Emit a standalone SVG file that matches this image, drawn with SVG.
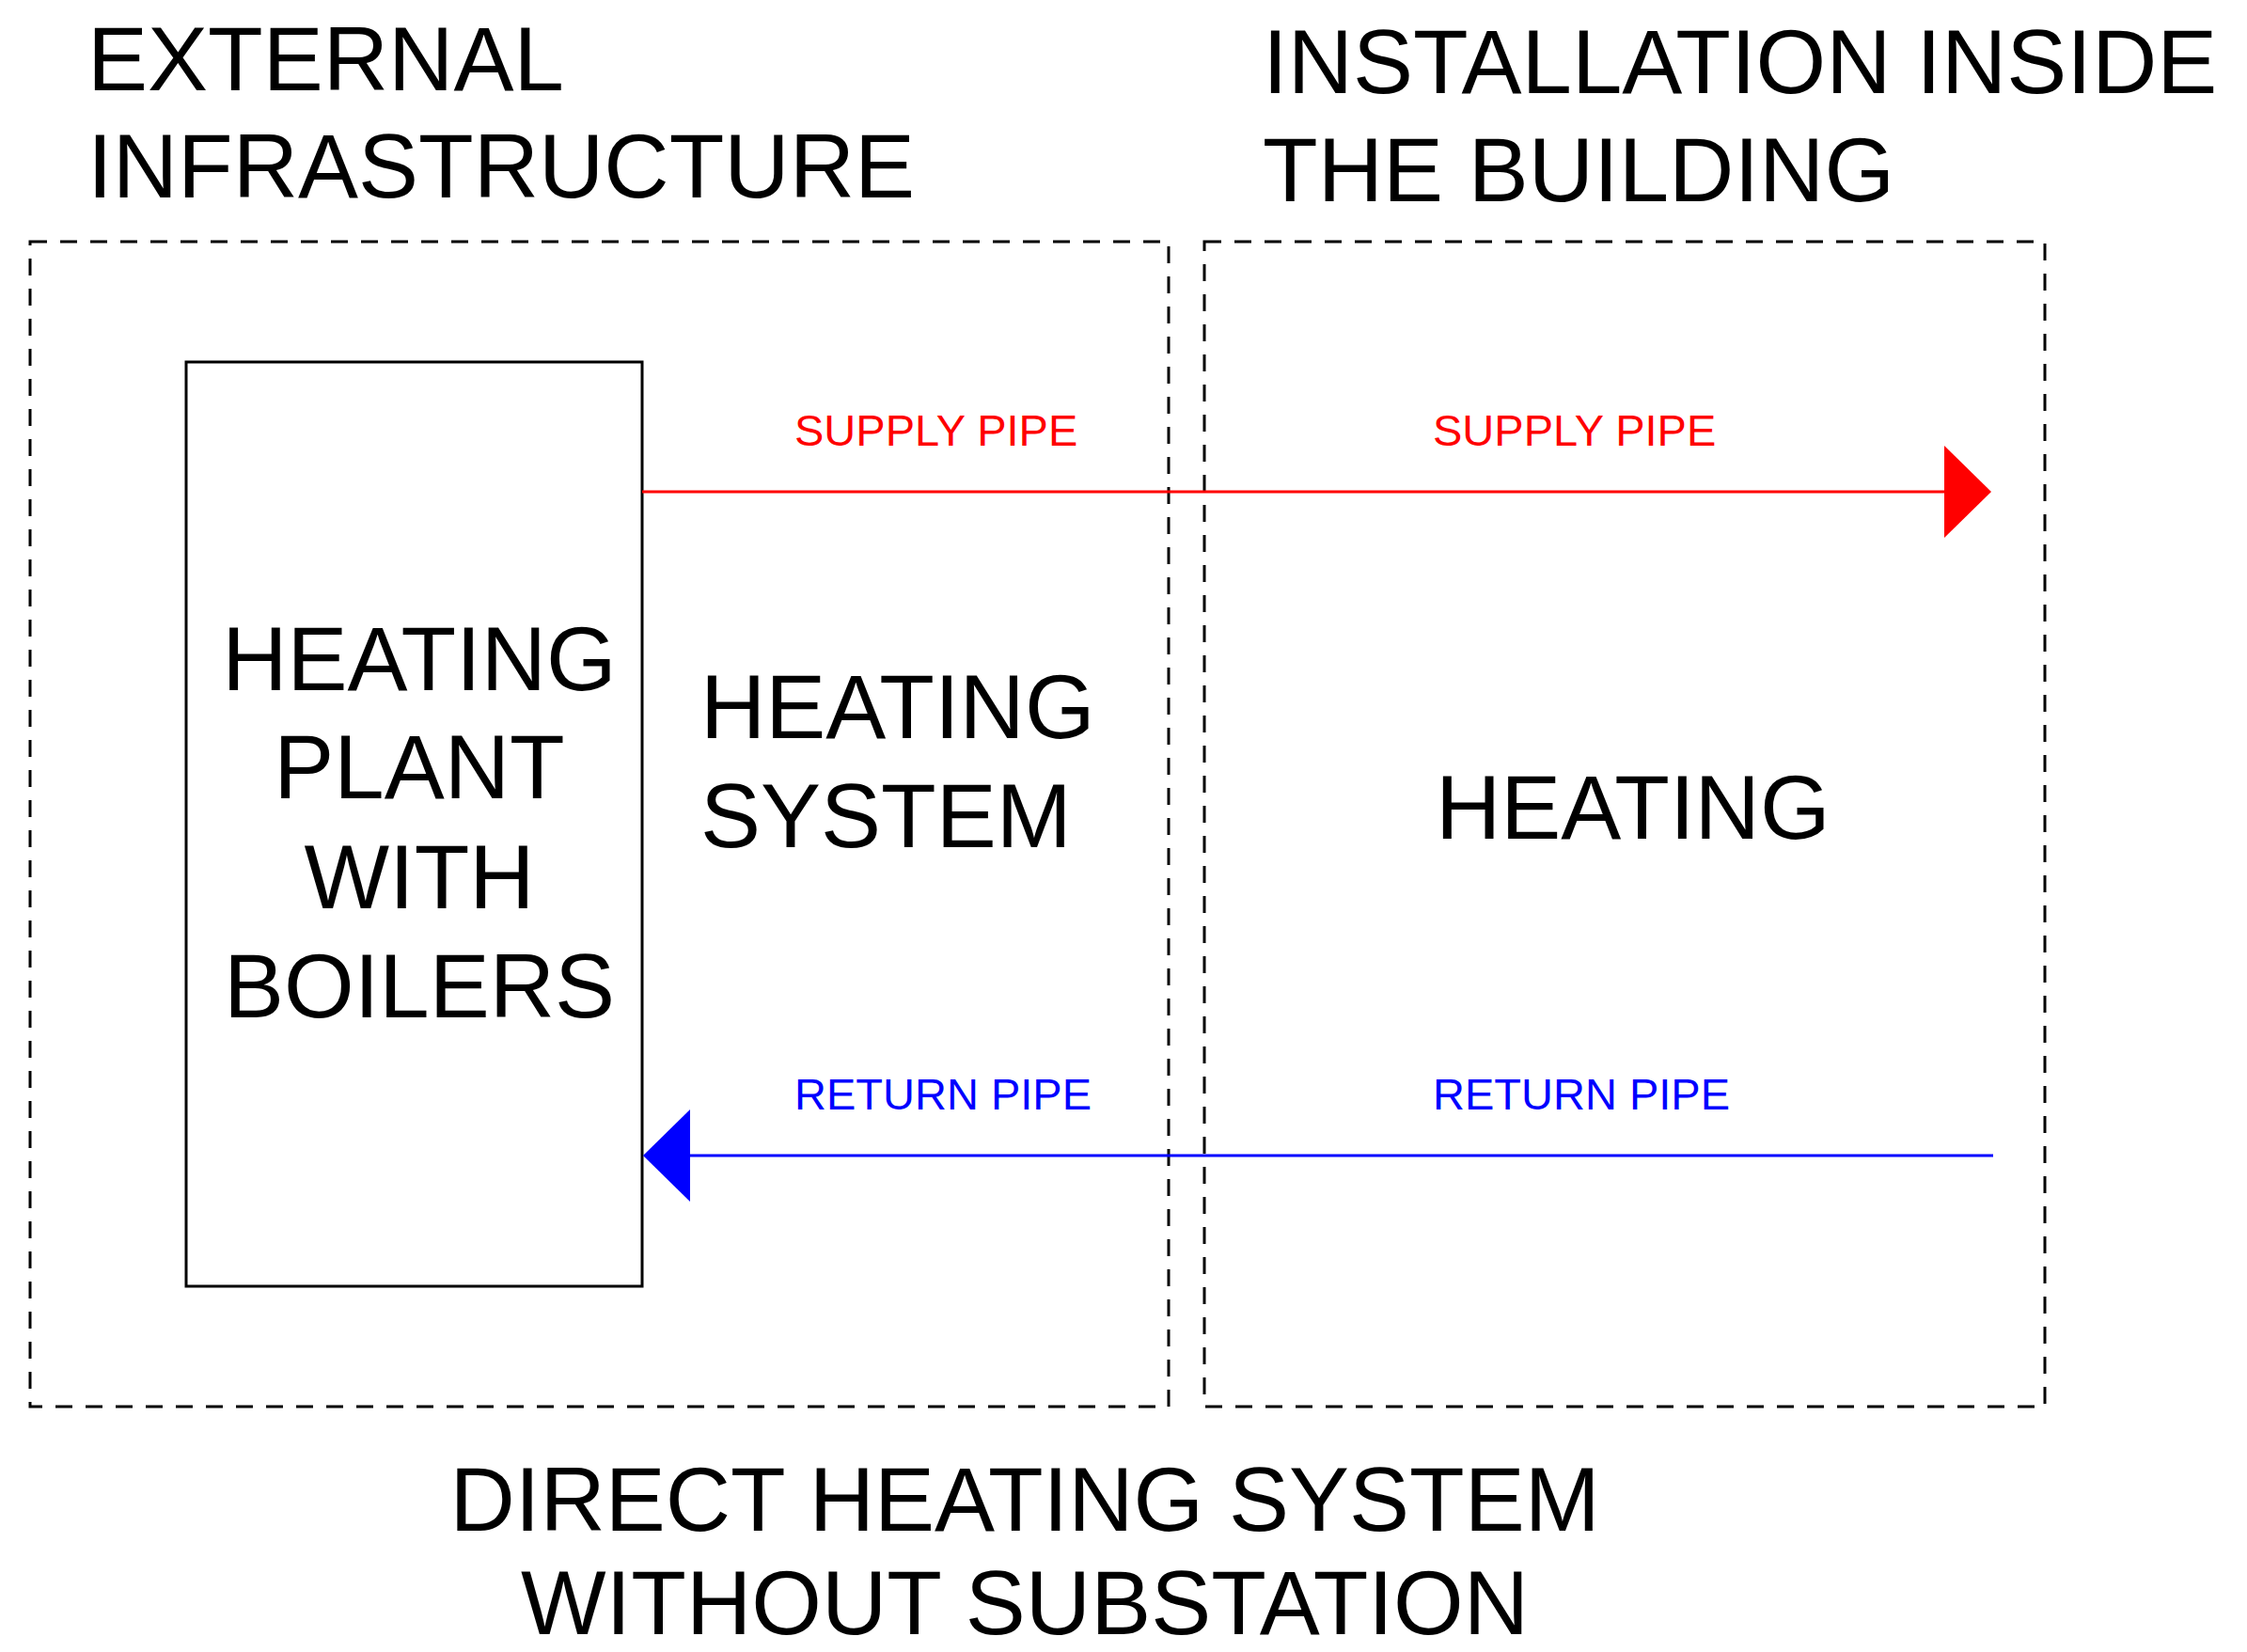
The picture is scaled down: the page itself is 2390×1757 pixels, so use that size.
<svg xmlns="http://www.w3.org/2000/svg" width="2390" height="1757" viewBox="0 0 2390 1757">
<style>
text{font-family:"Liberation Sans",Arial,sans-serif;fill:#000}
.big{font-size:96px}
.lbl{font-size:47px}
.dash{fill:none;stroke:#000;stroke-width:3;stroke-dasharray:18 14}
</style>
<rect width="2390" height="1757" fill="#fff"/>
<g id="titles">
<text class="big" x="93" y="96">EXTERNAL</text>
<text class="big" x="93" y="210">INFRASTRUCTURE</text>
<text class="big" x="1343" y="99">INSTALLATION INSIDE</text>
<text class="big" x="1343" y="214">THE BUILDING</text>
<text class="big" x="1090" y="1628" text-anchor="middle">DIRECT HEATING SYSTEM</text>
<text class="big" x="1090" y="1738" text-anchor="middle">WITHOUT SUBSTATION</text>
</g>
<g id="external"><rect class="dash" x="32" y="257" width="1211" height="1239"/></g>
<g id="building"><rect class="dash" x="1281" y="257" width="894" height="1239"/></g>
<g id="plant">
<rect x="198" y="385" width="485" height="983" fill="none" stroke="#000" stroke-width="3"/>
<text class="big" text-anchor="middle" x="446" y="734">HEATING</text>
<text class="big" text-anchor="middle" x="446" y="849">PLANT</text>
<text class="big" text-anchor="middle" x="446" y="966">WITH</text>
<text class="big" text-anchor="middle" x="446" y="1082">BOILERS</text>
</g>
<g id="system"><text class="big" x="745" y="785">HEATING</text><text class="big" x="745" y="901">SYSTEM</text></g>
<g id="heating"><text class="big" x="1527" y="892">HEATING</text></g>
<g id="connectors">
<line x1="683" y1="523" x2="2070" y2="523" stroke="#f00" stroke-width="3"/>
<polygon points="2068,474 2118,523 2068,572" fill="#f00"/>
<line x1="730" y1="1229" x2="2120" y2="1229" stroke="#00f" stroke-width="3"/>
<polygon points="734,1180 684,1229 734,1278" fill="#00f"/>
<text class="lbl" x="845" y="474" style="fill:#f00">SUPPLY PIPE</text>
<text class="lbl" x="1524" y="474" style="fill:#f00">SUPPLY PIPE</text>
<text class="lbl" x="845" y="1180" style="fill:#00f">RETURN PIPE</text>
<text class="lbl" x="1524" y="1180" style="fill:#00f">RETURN PIPE</text>
</g>
</svg>
